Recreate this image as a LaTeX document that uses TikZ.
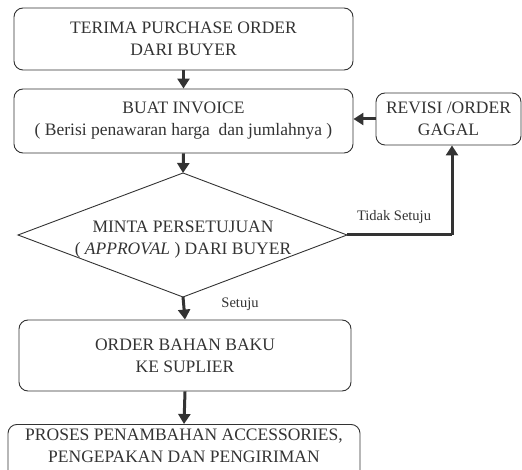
\documentclass[tikz,border=0pt]{standalone}
\usepackage{fontspec}
\setmainfont{Liberation Serif}
\usetikzlibrary{arrows.meta}
\definecolor{ink}{HTML}{333333}
\tikzset{
  box/.style={draw=ink, line width=0.9pt, rounded corners=9pt, align=center, font=\fontsize{17.5}{22}\selectfont, text=ink, inner sep=0pt},
  conn/.style={draw=ink, line width=3pt, -{Triangle[length=10pt,width=12pt]}},
  lbl/.style={font=\fontsize{14.5}{17}\selectfont, text=ink, inner sep=0pt}
}
\begin{document}
\begin{tikzpicture}[x=1pt,y=-1pt]
\useasboundingbox (0,0) rectangle (522,470);
\clip (0,0) rectangle (522,470);
\node[box, minimum width=339pt, minimum height=62pt] (terima) at (183.5,39) {TERIMA PURCHASE ORDER\\DARI BUYER};
\node[box, minimum width=339pt, minimum height=64pt] (invoice) at (183.5,121) {BUAT INVOICE\\( Berisi penawaran harga \ dan jumlahnya )};
\node[box, minimum width=145pt, minimum height=52pt] (revisi) at (448.5,119) {REVISI /ORDER\\GAGAL};
\coordinate (dt) at (183,173);
\coordinate (db) at (183,297);
\coordinate (dl) at (18,235);
\coordinate (dr) at (347,235);
\draw[ink, line width=0.9pt] (dt) -- (dr) -- (db) -- (dl) -- cycle;
\node[align=center, font=\fontsize{17.5}{22}\selectfont, text=ink] (minta) at (183,240) {MINTA PERSETUJUAN\\( \textit{APPROVAL} ) DARI BUYER};
\node[box, minimum width=332pt, minimum height=71pt] (bahan) at (185,355.5) {ORDER BAHAN BAKU\\KE SUPLIER};
\node[box, minimum width=352pt, minimum height=60pt, anchor=north] (proses) at (184,424) {};
\node[align=center, font=\fontsize{17.5}{22}\selectfont, text=ink, anchor=north, inner sep=0pt] (prosestext) at (184,429) {PROSES PENAMBAHAN ACCESSORIES,\\PENGEPAKAN DAN PENGIRIMAN};
\draw[conn] (terima.south) -- (invoice.north);
\draw[conn] (invoice.south) -- (dt);
\draw[conn] (revisi.west) -- (revisi.west -| invoice.east);
\coordinate (turn) at (452,235);
\draw[conn, -] (dr) -- (turn);
\draw[conn] (turn) -- (turn |- revisi.south);
\draw[conn] (db) -- (bahan.north);
\draw[conn] (bahan.south) -- (proses.north);
\node[lbl] (tidak) at (394,217) {Tidak Setuju};
\node[lbl] (setuju) at (240,304) {Setuju};
\end{tikzpicture}
\end{document}
